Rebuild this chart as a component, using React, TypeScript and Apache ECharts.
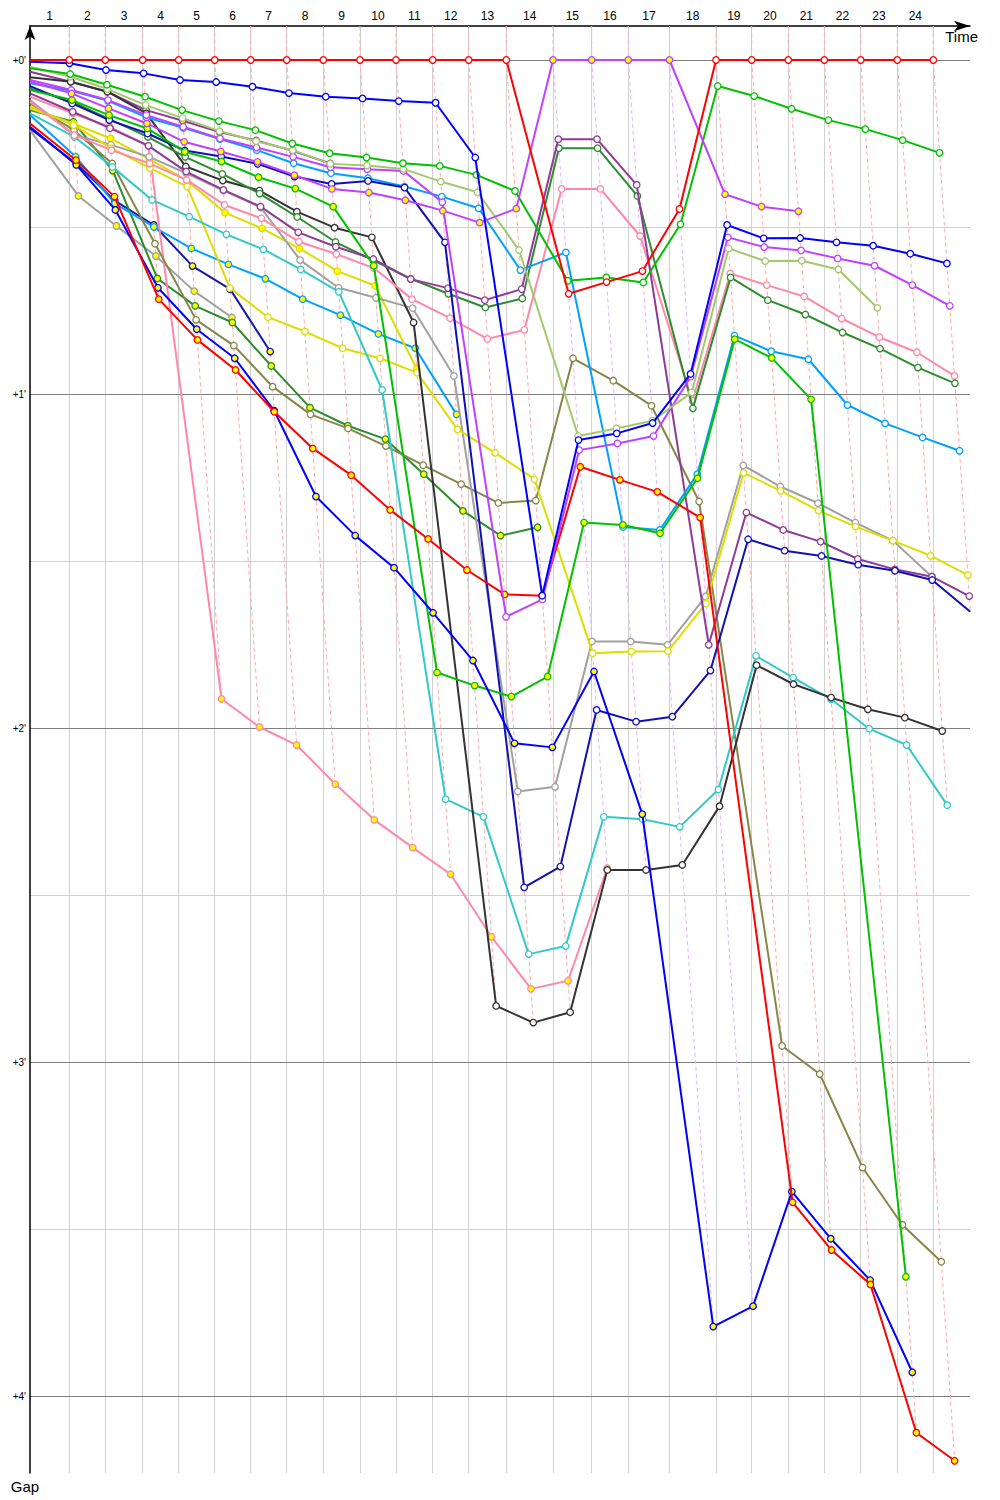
import React, { useEffect, useRef } from "react";
import * as echarts from "echarts";

// ---------- DATA ----------
const lapLabels = ["1","2","3","4","5","6","7","8","9","10","11","12","13","14","15","16","17","18","19","20","21","22","23","24"];
// elapsed race time (minutes) at which the leader completed each lap
const leaderLapTimes = [1.754, 3.362, 5.031, 6.638, 8.246, 9.853, 11.46, 13.094, 14.732, 16.339, 17.978, 19.585, 21.263, 23.348, 25.076, 26.71, 28.549, 30.625, 32.219, 33.853, 35.46, 37.085, 38.719, 40.326];
const gapTicks = [0, 1, 2, 3, 4];
const gapHalfLines = [0.5, 1.5, 2.5, 3.5];

// gap to leader (minutes) at start and at the end of each lap
const redLeadStart = 0;
const redLeadGaps = [0,0,0,0,0,0,0,0,0,0,0,0,0,0.70,0.665,0.632,0.446,0,0,0,0,0,0,0];
const blue1Start = 0.005;
const blue1Gaps = [0.01,0.03,0.04,0.06,0.066,0.08,0.099,0.11,0.115,0.123,0.128,0.292,1.604,1.138,1.118,1.087,0.94,0.494,0.534,0.533,0.546,0.556,0.58,0.609];
const green1Start = 0.025;
const green1Gaps = [0.042,0.074,0.11,0.15,0.183,0.21,0.25,0.279,0.292,0.309,0.317,0.344,0.392,0.661,0.651,0.666,0.492,0.078,0.108,0.146,0.18,0.207,0.24,0.278];
const lightGreenStart = 0.02;
const lightGreenGaps = [0.05,0.087,0.135,0.174,0.213,0.243,0.27,0.311,0.316,0.326,0.364,0.396,0.569,1.126,1.103,1.08,0.995,0.564,0.602,0.601,0.627,0.742];
const purple1Start = 0.1;
const purple1Gaps = [0.155,0.204,0.257,0.334,0.389,0.439,0.516,0.559,0.596,0.656,0.683,0.719,0.686,0.237,0.237,0.374,1.751,1.355,1.407,1.442,1.494,1.525,1.547,1.605];
const purple2Start = 0.035;
const purple2Gaps = [0.065,0.095,0.15,0.182,0.216,0.241,0.272,0.31];
const darkGreen1Start = 0.085;
const darkGreen1Gaps = [0.125,0.177,0.23,0.29,0.341,0.40,0.47,0.545,0.60,0.655,0.70,0.741,0.714,0.264,0.264,0.407,1.043,0.651,0.719,0.762,0.816,0.864,0.921,0.968];
const magenta1Start = 0.065;
const magenta1Gaps = [0.1,0.145,0.19,0.245,0.274,0.305,0.345,0.386,0.397,0.42,0.451,0.487,0.445,0,0,0,0,0.402,0.439,0.453];
const magenta2Start = 0.06;
const magenta2Gaps = [0.09,0.12,0.165,0.2,0.235,0.262,0.29,0.321,0.327,0.332,0.426,1.667,1.615,1.168,1.148,1.126,0.948,0.531,0.56,0.57,0.594,0.616,0.674,0.736];
const skyBlue1Start = 0.07;
const skyBlue1Gaps = [0.092,0.122,0.172,0.203,0.237,0.27,0.309,0.339,0.354,0.379,0.409,0.444,0.629,0.576,1.398,1.407,1.24,0.825,0.872,0.896,1.033,1.088,1.13,1.17];
const skyBlue2Start = 0.165;
const skyBlue2Gaps = [0.29,0.43,0.5,0.564,0.612,0.655,0.716,0.764,0.82,0.863,1.061];
const cyanStart = 0.16;
const cyanGaps = [0.23,0.32,0.419,0.469,0.522,0.567,0.627,0.694,0.988,2.213,2.266,2.677,2.653,2.266,2.273,2.296,2.184,1.784,1.849,1.914,2.002,2.051,2.231];
const blackStart = 0.052;
const blackGaps = [0.065,0.095,0.16,0.319,0.361,0.391,0.454,0.502,0.531,0.786,2.832,2.882,2.851,2.425,2.425,2.41,2.234,1.812,1.869,1.909,1.944,1.969,2.009];
const oliveStart = 0.13;
const oliveGaps = [0.21,0.31,0.55,0.778,0.855,0.978,1.061,1.103,1.156,1.213,1.27,1.326,1.319,0.893,0.96,1.035,1.322,2.952,3.036,3.316,3.488,3.598];
const yellow1Start = 0.14;
const yellow1Gaps = [0.195,0.264,0.324,0.379,0.683,0.77,0.813,0.863,0.893,0.936,1.106,1.176,1.255,1.776,1.771,1.77,1.627,1.236,1.29,1.349,1.397,1.439,1.484,1.542];
const yellow2Start = 0.145;
const yellow2Gaps = [0.19,0.235,0.297,0.361,0.457,0.504,0.564,0.632,0.676,0.925];
const grey1Start = 0.12;
const grey1Gaps = [0.225,0.254,0.29,0.339,0.391,0.441,0.599,0.682,0.712,0.743,0.946,2.19,2.176,1.741,1.741,1.751,1.607,1.214,1.277,1.327,1.385,1.439,1.547];
const grey2Start = 0.21;
const grey2Gaps = [0.407,0.497,0.587,0.692,0.771];
const pink1Start = 0.11;
const pink1Gaps = [0.16,0.2,0.257,1.913,1.997,2.051,2.168,2.275,2.358,2.438,2.625,2.781,2.757,2.42];
const pink2Start = 0.125;
const pink2Gaps = [0.225,0.27,0.31,0.359,0.434,0.474,0.544,0.581,0.623,0.716,0.773,0.835,0.808,0.386,0.386,0.527,1.02,0.639,0.674,0.708,0.774,0.83,0.875,0.946];
const navy1Start = 0.078;
const navy1Gaps = [0.13,0.18,0.22,0.271,0.289,0.311,0.349,0.371,0.362,0.382,0.546,2.477,2.415,1.946,1.981,1.966,1.828,1.435,1.469,1.485,1.511,1.529,1.557,1.652];
const navy2Start = 0.205;
const navy2Gaps = [0.31,0.421,0.494,0.617,0.686,0.873];
const blue2Start = 0.2;
const blue2Gaps = [0.314,0.449,0.682,0.806,0.893,1.05,1.307,1.424,1.52,1.655,1.798,2.046,2.058,1.831,2.258,3.792,3.731,3.388,3.529,3.653,3.929];
const red2Start = 0.19;
const red2Gaps = [0.3,0.409,0.716,0.838,0.928,1.053,1.163,1.243,1.347,1.434,1.527,1.6,1.604,1.218,1.257,1.293,1.37,3.42,3.563,3.666,4.11,4.194];
const darkGreen2Start = 0.15;
const darkGreen2Gaps = [0.185,0.331,0.654,0.736,0.786,0.916,1.041,1.095,1.135,1.24,1.35,1.424,1.399];
const green2Start = 0.09;
const green2Gaps = [0.12,0.165,0.205,0.275,0.304,0.351,0.385,0.439,0.616,1.834,1.873,1.906,1.846,1.385,1.392,1.417,1.252,0.836,0.892,1.016,3.643];

// ---------- STYLES ----------
const W = "#ffffff";
const Y = "#ffff00";
const cars = [
  { name: "grey2", start: grey2Start, gaps: grey2Gaps, color: "#a0a0a0", fill: Y },
  { name: "navy2", start: navy2Start, gaps: navy2Gaps, color: "#1818b0", fill: Y },
  { name: "darkGreen2", start: darkGreen2Start, gaps: darkGreen2Gaps, color: "#2e8b2e", fill: Y },
  { name: "skyBlue2", start: skyBlue2Start, gaps: skyBlue2Gaps, color: "#00a0ff", fill: Y },
  { name: "pink1", start: pink1Start, gaps: pink1Gaps, color: "#ff88a8", fill: Y },
  { name: "purple2", start: purple2Start, gaps: purple2Gaps, color: "#8e3a96", fill: Y },
  { name: "yellow2", start: yellow2Start, gaps: yellow2Gaps, color: "#dddd00", fill: Y },
  { name: "olive", start: oliveStart, gaps: oliveGaps, color: "#868648", fill: W },
  { name: "grey1", start: grey1Start, gaps: grey1Gaps, color: "#a0a0a0", fill: W },
  { name: "yellow1", start: yellow1Start, gaps: yellow1Gaps, color: "#dddd00", fill: W },
  { name: "cyan", start: cyanStart, gaps: cyanGaps, color: "#33c8c8", fill: W },
  { name: "black", start: blackStart, gaps: blackGaps, color: "#333333", fill: W },
  { name: "pink2", start: pink2Start, gaps: pink2Gaps, color: "#ff88a8", fill: W },
  { name: "darkGreen1", start: darkGreen1Start, gaps: darkGreen1Gaps, color: "#2e8b2e", fill: W },
  { name: "purple1", start: purple1Start, gaps: purple1Gaps, color: "#8e3a96", fill: W },
  { name: "skyBlue1", start: skyBlue1Start, gaps: skyBlue1Gaps, color: "#00a0ff", fill: W },
  { name: "navy1", start: navy1Start, gaps: navy1Gaps, color: "#1010b4", fill: W },
  { name: "green2", start: green2Start, gaps: green2Gaps, color: "#00c000", fill: Y },
  { name: "blue2", start: blue2Start, gaps: blue2Gaps, color: "#0000ff", fill: Y },
  { name: "red2", start: red2Start, gaps: red2Gaps, color: "#ff0000", fill: Y },
  { name: "magenta2", start: magenta2Start, gaps: magenta2Gaps, color: "#c040ff", fill: W },
  { name: "lightGreen", start: lightGreenStart, gaps: lightGreenGaps, color: "#a4c86c", fill: W },
  { name: "green1", start: green1Start, gaps: green1Gaps, color: "#00c000", fill: W },
  { name: "magenta1", start: magenta1Start, gaps: magenta1Gaps, color: "#c040ff", fill: Y },
  { name: "blue1", start: blue1Start, gaps: blue1Gaps, color: "#0000ff", fill: W },
  { name: "redLead", start: redLeadStart, gaps: redLeadGaps, color: "#ff0000", fill: W },
];

const lapLineColors: Record<string, string> = { "#ff0000": "#ffaaaa", "#c040ff": "#e4b4ff" };

// ---------- GEOMETRY ----------
const GRID_LEFT = 30;
const GRID_TOP = 26;
const GRID_W = 940;
const GRID_H = 1447;
const PX_PER_MIN_X = 22.4;
const PX_PER_MIN_Y = 334;
const Y_MIN = -(60 - GRID_TOP) / PX_PER_MIN_Y;
const Y_MAX = Y_MIN + GRID_H / PX_PER_MIN_Y;
const X_MAX = GRID_W / PX_PER_MIN_X;
const FONT = "'Liberation Sans', Arial, sans-serif";

export default function App() {
  const ref = useRef<HTMLDivElement>(null);
  useEffect(() => {
    if (!ref.current) return;
    const chart = echarts.init(ref.current, null, { renderer: "svg" });

    const lapMids = leaderLapTimes.map((t, i) => (i === 0 ? t / 2 : (t + leaderLapTimes[i - 1]) / 2));

    const gridSeries: any = {
      type: "line",
      data: [],
      silent: true,
      z: 0,
      markLine: {
        z: 0,
        silent: true,
        symbol: ["none", "none"],
        animation: false,
        label: { show: false },
        emphasis: { disabled: true },
        data: [
          ...leaderLapTimes.map((t) => [
            { coord: [t, Y_MIN], lineStyle: { color: "#d0d0d0", width: 1, type: "solid" } },
            { coord: [t, Y_MAX] },
          ]),
          ...gapHalfLines.map((g) => [
            { coord: [0, g], lineStyle: { color: "#d0d0d0", width: 1, type: "solid" } },
            { coord: [X_MAX, g] },
          ]),
          ...gapTicks.map((g) => [
            { coord: [0, g], lineStyle: { color: "#808080", width: 1, type: "solid" } },
            { coord: [X_MAX, g] },
          ]),
        ],
      },
    };

    // one dashed line per lap, linking every car's crossing of that lap
    const lapSeries = leaderLapTimes.map((t, i) => {
      const entries = cars
        .filter((c) => c.gaps[i] != null && c.gaps[i] !== undefined)
        .map((c) => ({ g: c.gaps[i] as number, color: c.color }))
        .sort((a, b) => a.g - b.g);
      const leaderColor = entries.length ? entries[0].color : "#ff0000";
      const data = [[t, Y_MIN], ...entries.map((e) => [t + e.g, e.g])];
      return {
        type: "line",
        data,
        symbol: "none",
        silent: true,
        z: 2,
        lineStyle: { color: lapLineColors[leaderColor] || "#ffaaaa", width: 1, type: [4, 3] },
      };
    });

    const carSeries = cars.map((c, k) => {
      const data: any[] = [{ value: [0, c.start], symbol: "none" }];
      c.gaps.forEach((g, i) => {
        if (g != null) data.push([leaderLapTimes[i] + g, g]);
      });
      return {
        type: "line",
        name: c.name,
        data,
        symbol: "circle",
        symbolSize: 6.5,
        silent: true,
        z: 10 + k * 0.01,
        lineStyle: { color: c.color, width: 2 },
        itemStyle: { color: c.fill, borderColor: c.color, borderWidth: 1.3 },
      };
    });

    chart.setOption({
      animation: false,
      backgroundColor: "#ffffff",
      grid: { left: GRID_LEFT, top: GRID_TOP, width: GRID_W, height: GRID_H, containLabel: false },
      xAxis: {
        type: "value",
        position: "top",
        min: 0,
        max: X_MAX,
        name: "Time",
        nameLocation: "end",
        nameGap: 8,
        nameTextStyle: { fontSize: 15, color: "#000", fontFamily: FONT, align: "right", verticalAlign: "top", padding: [3, 0, 0, 0] },
        axisLine: { onZero: false, symbol: ["none", "arrow"], symbolSize: [8, 16], lineStyle: { color: "#000", width: 1.5 } },
        axisTick: { show: false },
        splitLine: { show: false },
        axisLabel: {
          customValues: lapMids,
          formatter: (v: number) => {
            const i = lapMids.findIndex((m) => Math.abs(m - v) < 1e-6);
            return i >= 0 ? lapLabels[i] : "";
          },
          fontSize: 12,
          fontFamily: FONT,
          color: "#000",
          margin: 4,
        },
      },
      yAxis: {
        type: "value",
        inverse: true,
        min: Y_MIN,
        max: Y_MAX,
        name: "Gap",
        nameLocation: "end",
        nameGap: 6,
        nameTextStyle: { fontSize: 15, color: "#000", fontFamily: FONT, align: "center", verticalAlign: "top", padding: [0, 10, 0, 0] },
        axisLine: { onZero: false, symbol: ["none", "arrow"], symbolSize: [8, 14], lineStyle: { color: "#000", width: 1.5 } },
        axisTick: { show: false },
        splitLine: { show: false },
        axisLabel: {
          customValues: gapTicks,
          formatter: (v: number) => "+" + Math.round(v) + "'",
          fontSize: 10,
          fontFamily: FONT,
          color: "#000",
          margin: 4,
        },
      },
      series: [gridSeries, ...lapSeries, ...carSeries],
    });
    return () => chart.dispose();
  }, []);
  return <div ref={ref} style={{ position: "absolute", left: 0, top: 0, width: 1000, height: 1500, background: "#fff" }} />;
}
